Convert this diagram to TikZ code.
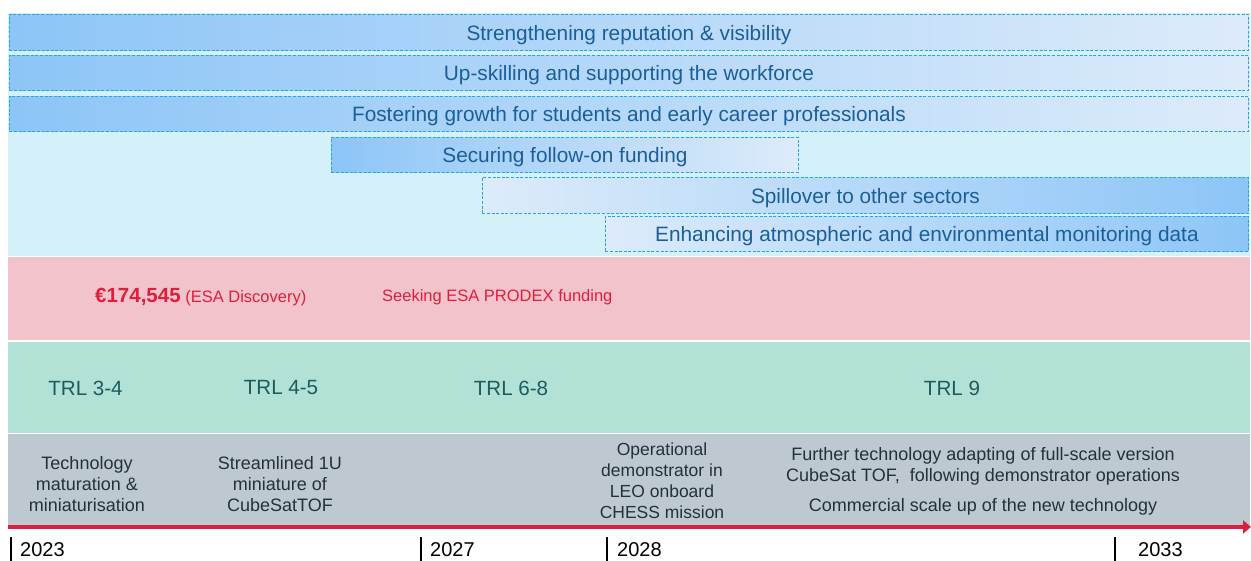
\documentclass[tikz,border=0pt]{standalone}
\usepackage{fontspec}
\setmainfont{Liberation Sans}
\usetikzlibrary{arrows.meta}

\definecolor{barline}{HTML}{2AA6DE}
\definecolor{bardeep}{HTML}{8DC5F7}
\definecolor{barpale}{HTML}{DDEBFA}
\definecolor{bartext}{HTML}{1B5E98}
\definecolor{skyband}{HTML}{D4F0F8}
\definecolor{pinkband}{HTML}{F2C3CB}
\definecolor{fundred}{HTML}{DD1F3D}
\definecolor{greenband}{HTML}{B2E2D6}
\definecolor{trltext}{HTML}{1D5C5E}
\definecolor{greyband}{HTML}{BDC8D0}
\definecolor{greytext}{HTML}{243238}

\begin{document}
\begin{tikzpicture}[x=1pt,y=-1pt,
  impact/.style={draw=barline, line width=0.9pt, dash pattern=on 3pt off 1.6pt,
    inner sep=0pt, anchor=north west, text=bartext,
    text height=20pt, text depth=4.5pt,
    font=\fontsize{20.8}{24}\selectfont},
  deepleft/.style={left color=bardeep, right color=barpale},
  deepright/.style={left color=barpale, right color=bardeep},
  fundlabel/.style={anchor=west, inner sep=0pt, text=fundred,
    font=\fontsize{16.5}{20}\selectfont},
  trllabel/.style={inner sep=0pt, text=trltext, font=\fontsize{20.6}{24}\selectfont},
  stagelabel/.style={inner sep=0pt, align=center, text=greytext,
    font=\fontsize{18}{21}\selectfont},
  yearlabel/.style={anchor=west, inner sep=0pt, text=black,
    font=\fontsize{20}{24}\selectfont},
  tick/.style={draw=black, line width=1.2pt}]

\path[use as bounding box] (0,0) rectangle (1251,561);

% background bands
\fill[skyband]   (8,13)  rectangle (1250,256.5);
\fill[pinkband]  (8,257.5) rectangle (1250,340.5);
\fill[greenband] (8,342) rectangle (1250,433);
\fill[greyband]  (8,434) rectangle (1250,527);

% impact bars
\node[impact, deepleft, minimum width=1239, minimum height=36] (rep) at (9,14)
  {Strengthening reputation \& visibility};
\node[impact, deepleft, minimum width=1239, minimum height=35] (skill) at (9,55)
  {Up-skilling and supporting the workforce};
\node[impact, deepleft, minimum width=1239, minimum height=35] (grow) at (9,96)
  {Fostering growth for students and early career professionals};
\node[impact, deepleft, minimum width=467, minimum height=35] (fund) at (331,137)
  {Securing follow-on funding};
\node[impact, deepright, minimum width=766, minimum height=36] (spill) at (482,177)
  {Spillover to other sectors};
\node[impact, deepright, minimum width=643, minimum height=35] (env) at (605,216)
  {Enhancing atmospheric and environmental monitoring data};

% funding
\node[fundlabel] (disc) at (95,297)
  {{\fontsize{20.5}{24}\selectfont\bfseries €174,545} (ESA Discovery)};
\node[fundlabel] (prodex) at (382,297) {Seeking ESA PRODEX funding};

% technology readiness levels
\node[trllabel] (trl34) at (85.5,388) {TRL 3-4};
\node[trllabel] (trl45) at (281,388) {TRL 4-5};
\node[trllabel] (trl68) at (511,388) {TRL 6-8};
\node[trllabel] (trl9)  at (952,388) {TRL 9};

% stages
\node[stagelabel] (s1) at (87,484)
  {Technology\\maturation \&\\miniaturisation};
\node[stagelabel] (s2) at (280,484)
  {Streamlined 1U\\miniature of\\CubeSatTOF};
\node[stagelabel, font=\fontsize{17.5}{21}\selectfont] (s3) at (662,480.5)
  {Operational\\demonstrator in\\LEO onboard\\CHESS mission};
\node[stagelabel] (s4) at (983,466.5)
  {Further technology adapting of full-scale version\\CubeSat TOF,\ \ following demonstrator operations};
\node[stagelabel] (s5) at (983,507)
  {Commercial scale up of the new technology};

% time axis
\coordinate (axisstart) at (8,527);
\coordinate (axisend) at (1251,527);
\draw[fundred, line width=4pt, -{Triangle[length=8pt,width=13pt]}] (axisstart) -- (axisend);

\coordinate (k23a) at (11,537);   \coordinate (k23b) at (11,561);
\coordinate (k27a) at (421,537);  \coordinate (k27b) at (421,561);
\coordinate (k28a) at (607,537);  \coordinate (k28b) at (607,561);
\coordinate (k33a) at (1115,537); \coordinate (k33b) at (1115,561);
\draw[tick] (k23a) -- (k23b);
\draw[tick] (k27a) -- (k27b);
\draw[tick] (k28a) -- (k28b);
\draw[tick] (k33a) -- (k33b);

\node[yearlabel] (y23) at (20,550) {2023};
\node[yearlabel] (y27) at (430,550) {2027};
\node[yearlabel] (y28) at (617,550) {2028};
\node[yearlabel] (y33) at (1138,550) {2033};
\end{tikzpicture}
\end{document}
